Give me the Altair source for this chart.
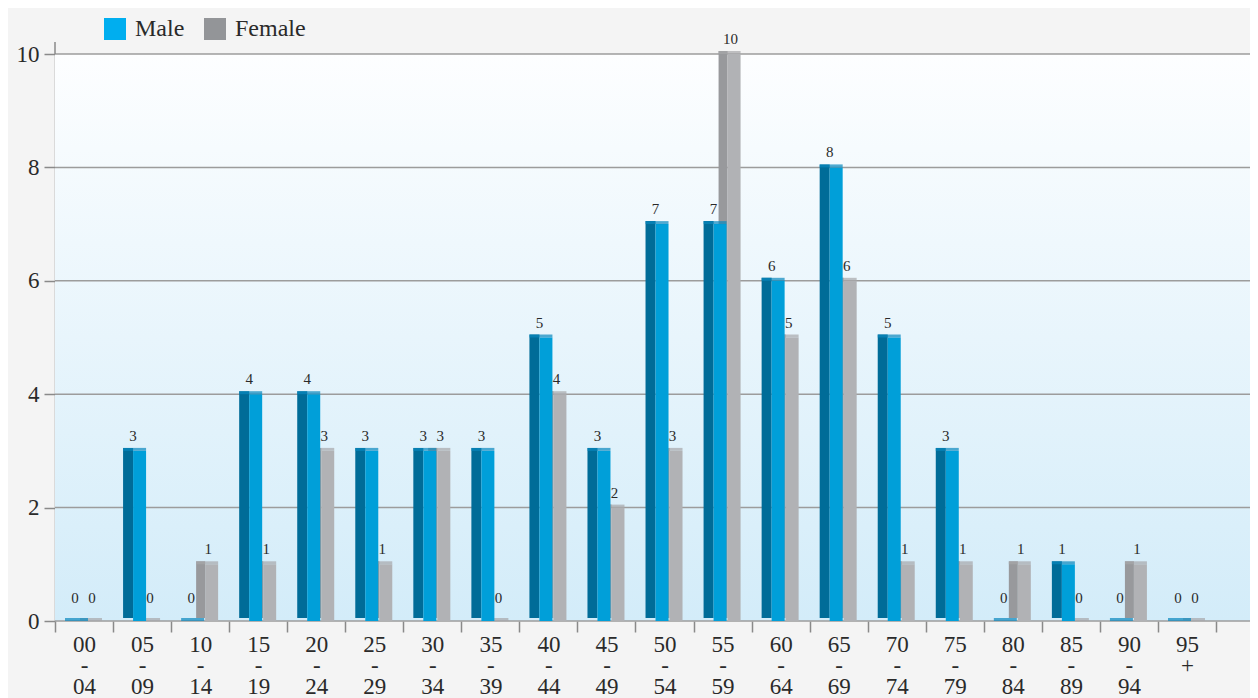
import altair as alt
import pandas as pd

categories = ["00-04", "05-09", "10-14", "15-19", "20-24", "25-29", "30-34", "35-39",
              "40-44", "45-49", "50-54", "55-59", "60-64", "65-69", "70-74", "75-79",
              "80-84", "85-89", "90-94", "95+"]
male = [0, 3, 0, 4, 4, 3, 3, 3, 5, 3, 7, 7, 6, 8, 5, 3, 0, 1, 0, 0]
female = [0, 0, 1, 1, 3, 1, 3, 0, 4, 2, 3, 10, 5, 6, 1, 1, 1, 0, 1, 0]
series = ["Male", "Female"]
y_ticks = [0, 2, 4, 6, 8, 10]

rows = []
for c, m, f in zip(categories, male, female):
    rows.append({"group": c, "sex": "Male", "value": m})
    rows.append({"group": c, "sex": "Female", "value": f})
df = pd.DataFrame(rows)

W, H = 1195, 567
FONT = "Liberation Serif"

xscale = alt.Scale(domain=categories, range=[0, 1161], paddingInner=0, paddingOuter=0)
yscale = alt.Scale(domain=[0, 10], nice=False)

x_enc = alt.X("group:N", scale=xscale, sort=categories, title=None,
              axis=alt.Axis(domain=False, tickBand="extent", tickSize=11, tickColor="#8a8a8a",
                            tickWidth=1.5, labelAngle=0, labelFont=FONT, labelFontSize=23,
                            labelColor="#2a2a2a", labelPadding=1, labelLineHeight=21,
                            labelExpr="isValid(datum.value) ? split(replace(replace(datum.value, '-', '|-|'), '+', '|+'), '|') : ''"))
y_enc = alt.Y("value:Q", scale=yscale, title=None,
              axis=alt.Axis(values=y_ticks, format="d", grid=False,
                            domainColor="#8a8a8a", domainWidth=1.5, tickColor="#8a8a8a",
                            tickWidth=1.5, tickSize=11, labelFont=FONT, labelFontSize=23,
                            labelColor="#2a2a2a", labelPadding=5))
y_plain = alt.Y("value:Q", scale=yscale)

base = alt.Chart(df)

bg = alt.Chart(pd.DataFrame({"a": [0]})).mark_rect().encode(
    x=alt.value(0), x2=alt.value(W), y=alt.value(0), y2=alt.value(H),
    color=alt.value({"gradient": "linear", "x1": 0, "y1": 0, "x2": 0, "y2": 1,
                     "stops": [{"offset": 0, "color": "#fdfeff"},
                               {"offset": 1, "color": "#d3ecf9"}]}))

grid = alt.Chart(pd.DataFrame({"tick": y_ticks})).mark_rule(color="#9c9c9c", strokeWidth=1.5).encode(
    y=alt.Y("tick:Q", scale=yscale), x=alt.value(0), x2=alt.value(W))

axis_ext = alt.Chart(pd.DataFrame({"a": [0]})).mark_rule(color="#8a8a8a", strokeWidth=1.5).encode(
    x=alt.value(0), y=alt.value(-12), y2=alt.value(0))

color_scale = alt.Scale(domain=series, range=["#00aeef", "#939598"])
legend = alt.Legend(orient="none", legendX=48, legendY=-37, direction="horizontal",
                    title=None, symbolType="square", symbolSize=484, symbolStrokeWidth=0,
                    symbolOpacity=1,
                    labelFont=FONT, labelFontSize=24, labelColor="#2a2a2a",
                    labelOffset=8, columnPadding=18, padding=0)

legend_layer = alt.Chart(pd.DataFrame({"sex": series})).transform_filter("false").mark_point(
    filled=True, shape="square", opacity=1).encode(
    color=alt.Color("sex:N", scale=color_scale, legend=legend))

fem = base.transform_filter(alt.datum.sex == "Female")
mal = base.transform_filter(alt.datum.sex == "Male")

f_side = fem.mark_bar(width=9, xOffset=0.5, yOffset=-3, color="#98999c").encode(x=x_enc, y=y_enc)
f_front = fem.mark_bar(width=13, xOffset=11.5, color="#b1b2b5").encode(x=x_enc, y=y_plain)
f_cap = fem.mark_tick(size=22, thickness=3, xOffset=7, yOffset=-1.5, color="#a6a7aa").encode(x=x_enc, y=y_plain)

m_side = mal.mark_bar(width=10, xOffset=-14, yOffset=-3, color="#006c98").encode(x=x_enc, y=y_plain)
m_front = mal.mark_bar(width=13, xOffset=-2.5, color="#009fd9").encode(x=x_enc, y=y_plain)
m_cap = mal.mark_tick(size=23, thickness=3, xOffset=-7.5, yOffset=-1.5, color="#0887bd").encode(x=x_enc, y=y_plain)

def labels(src, dx):
    pos = src.transform_filter(alt.datum.value > 0).mark_text(
        font=FONT, fontSize=15, color="#2a2a2a", dx=dx, dy=-15, baseline="middle").encode(
        x=x_enc, y=y_plain, text=alt.Text("value:Q"))
    zero = src.transform_filter(alt.datum.value == 0).mark_text(
        font=FONT, fontSize=15, color="#2a2a2a", dx=dx, dy=-23, baseline="middle").encode(
        x=x_enc, y=y_plain, text=alt.Text("value:Q"))
    return [pos, zero]

chart = alt.layer(
    bg, grid, axis_ext, legend_layer, f_side, f_front, f_cap, m_side, m_front, m_cap,
    *labels(mal, -9), *labels(fem, 8)
).properties(
    width=W, height=H,
    autosize=alt.AutoSizeParams(type="none"),
    padding={"left": 47, "top": 46, "right": 0, "bottom": 77},
    background="#f4f4f4",
).configure_view(stroke=None)

chart.save("out.html", embed_options={"renderer": "svg", "actions": False})
